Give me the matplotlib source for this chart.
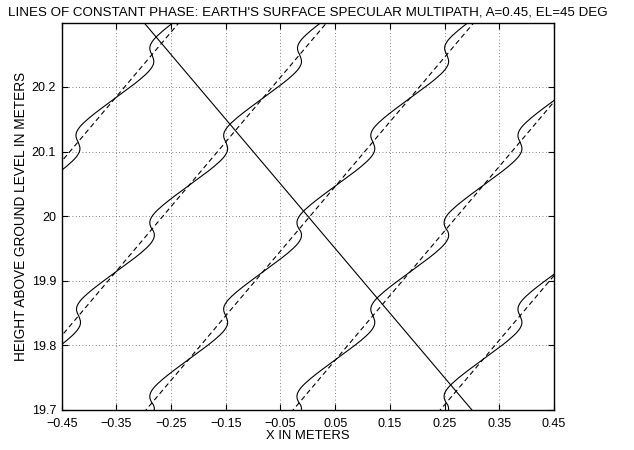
import matplotlib
matplotlib.use("Agg")
import matplotlib.pyplot as plt
import numpy as np

plt.rcParams['font.family'] = ['Liberation Sans', 'DejaVu Sans']

# intercepts c of the undisturbed phase lines y = x + c (meters)
phase_offsets = [20.535, 20.265, 19.996, 19.727, 19.458]

# heights where the multipath kinks are centred
kink_heights = [19.577, 19.711, 19.846, 19.980, 20.115, 20.250]

# one period of the multipath wiggle:
# height above kink centre vs. horizontal shift from the dashed line
wiggle_u = [0.0, 0.0037, 0.0075, 0.0112, 0.0149, 0.0187, 0.0224, 0.0262,
            0.0299, 0.0336, 0.0374, 0.0448, 0.0523, 0.0598, 0.0673, 0.0747,
            0.0822, 0.0897, 0.0971, 0.1009, 0.1046, 0.1084, 0.1121, 0.1158,
            0.1196, 0.1233, 0.1270, 0.1308]
wiggle_dx = [0.0, -0.0060, -0.0112, -0.0151, -0.0178, -0.0193, -0.0200, -0.0199,
             -0.0192, -0.0181, -0.0167, -0.0132, -0.0091, -0.0046, 0.0, 0.0046,
             0.0091, 0.0132, 0.0167, 0.0181, 0.0192, 0.0199, 0.0200, 0.0193,
             0.0178, 0.0151, 0.0112, 0.0060]

# direct ray at 45 deg elevation
ray_x = [-0.30, 0.30]
ray_y = [20.30, 19.70]

xticks = [-0.45, -0.35, -0.25, -0.15, -0.05, 0.05, 0.15, 0.25, 0.35, 0.45]
yticks = [19.7, 19.8, 19.9, 20.0, 20.1, 20.2]

# stack the period table over all kinks
ys = np.concatenate([k + np.array(wiggle_u) for k in kink_heights])
dxs = np.tile(wiggle_dx, len(kink_heights))

fig = plt.figure(figsize=(6.34, 4.5), dpi=100)
ax = fig.add_axes([0.0973, 0.0889, 0.7765, 0.8607])

for c in phase_offsets:
    ax.plot(ys - c + dxs, ys, color='black', lw=0.8)
    ax.plot(ys - c, ys, color='black', lw=0.8, dashes=(4.5, 3))
ax.plot(ray_x, ray_y, color='black', lw=0.8)

ax.set_xlim(-0.45, 0.45)
ax.set_ylim(19.7, 20.2995)
ax.set_xticks(xticks)
ax.set_xticklabels(['\u22120.45', '\u22120.35', '\u22120.25', '\u22120.15', '\u22120.05',
                    '0.05', '0.15', '0.25', '0.35', '0.45'])
ax.set_yticks(yticks)
ax.set_yticklabels(['19.7', '19.8', '19.9', '20', '20.1', '20.2'])
ax.tick_params(direction='in', length=4, width=0.8, labelsize=9,
               top=True, right=True)
ax.tick_params(axis='x', pad=6)
ax.tick_params(axis='y', pad=4)
ax.grid(True, color='#555555', linestyle=(0, (1, 3)), lw=0.6)
for s in ax.spines.values():
    s.set_linewidth(1.0)

ax.set_title("LINES OF CONSTANT PHASE: EARTH'S SURFACE SPECULAR MULTIPATH, A=0.45, EL=45 DEG",
             fontsize=9.6, pad=5)
ax.set_xlabel('X IN METERS', fontsize=9.4, labelpad=0)
ax.set_ylabel('HEIGHT ABOVE GROUND LEVEL IN METERS', fontsize=9.8, labelpad=3)

fig.savefig('out.png', dpi=100)
